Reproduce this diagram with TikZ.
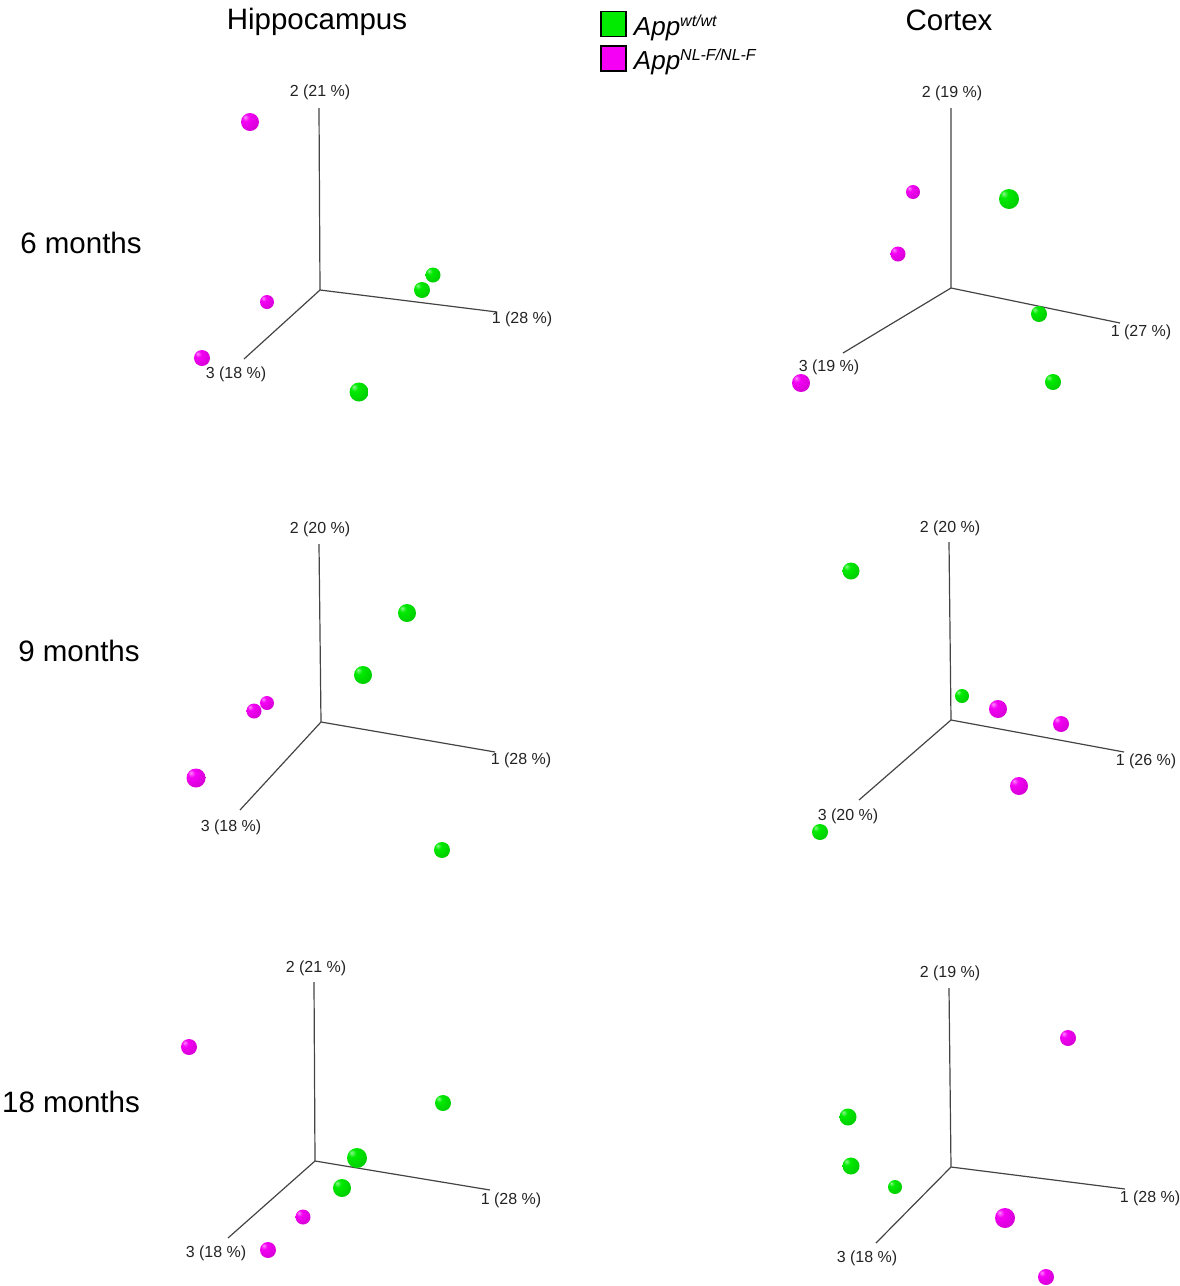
\documentclass[tikz,border=0pt]{standalone}
\usepackage{fontspec}
\setmainfont{Liberation Sans}
\usepackage{tikz}
\usetikzlibrary{positioning}
\definecolor{wtgreen}{RGB}{0,235,0}
\definecolor{nlmagenta}{RGB}{245,0,245}
\definecolor{axisgray}{RGB}{35,35,35}
\pgfdeclareradialshading{wtsphere}{\pgfpoint{-14bp}{14bp}}{color(0bp)=(white!55!wtgreen); color(10bp)=(wtgreen); color(38bp)=(wtgreen!85!black); color(55bp)=(wtgreen!50!black); color(75bp)=(wtgreen!35!black)}
\pgfdeclareradialshading{nlsphere}{\pgfpoint{-14bp}{14bp}}{color(0bp)=(white!55!nlmagenta); color(10bp)=(nlmagenta); color(38bp)=(nlmagenta!85!black); color(55bp)=(nlmagenta!50!black); color(75bp)=(nlmagenta!35!black)}
\begin{document}
\begin{tikzpicture}[x=1pt,y=-1pt,
    axis/.style={axisgray!85,line width=1.2pt},
    axlabel/.style={text=axisgray,font=\fontsize{16}{18}\selectfont,inner sep=0pt,yshift=-1.5pt},
    title/.style={font=\fontsize{29.5}{33}\selectfont,inner sep=0pt},
    ball/.style={circle,inner sep=0pt},
    wtball/.style={ball,shading=wtsphere},
    nlball/.style={ball,shading=nlsphere},
    legbox/.style={draw=black,line width=1.5pt,minimum size=25pt,inner sep=0pt},
    legtext/.style={anchor=base west,inner sep=0pt,font=\fontsize{26}{30}\selectfont\itshape}]
    \useasboundingbox (0,0) rectangle (1179,1286);
    % titles and legend
    \node[title] (hip) at (317,21.5) {Hippocampus};
    \node[title] (cor) at (949,20) {Cortex};
    \node[title] (m6) at (81,243) {6 months};
    \node[title] (m9) at (79,651) {9 months};
    \node[title] (m18) at (71,1102) {18 months};
    \node[legbox,fill=wtgreen] (wtbox) at (613.5,24) {};
    \node[legbox,fill=nlmagenta] (nlbox) at (613.5,58.5) {};
    \node[legtext] (wtleg) at ([xshift=7pt,yshift=-11pt]wtbox.east) {App\raisebox{9pt}{\fontsize{16}{16}\selectfont wt/wt}};
    \node[legtext] (nlleg) at ([xshift=7pt,yshift=-11pt]nlbox.east) {App\raisebox{9pt}{\fontsize{16}{16}\selectfont NL-F/NL-F}};

    % hippocampus, 6 months
    \coordinate (h6o) at (320,290);
    \coordinate (h6a) at (497,312);
    \coordinate (h6b) at (319,108);
    \coordinate (h6c) at (244,359);
    \draw[axis] (h6b) -- (h6o) -- (h6a);
    \draw[axis] (h6o) -- (h6c);
    \node[axlabel] (h6al) at (522,318) {1 (28 \%)};
    \node[axlabel] (h6bl) at (320,91) {2 (21 \%)};
    \node[axlabel] (h6cl) at (236,373) {3 (18 \%)};
    \node[nlball,minimum size=18pt] (h6p1) at (250,122) {};
    \node[nlball,minimum size=14pt] (h6p2) at (267,302) {};
    \node[nlball,minimum size=16pt] (h6p3) at (202,358) {};
    \node[wtball,minimum size=15pt] (h6g1) at (433,275) {};
    \node[wtball,minimum size=16pt] (h6g2) at (422,290) {};
    \node[wtball,minimum size=19pt] (h6g3) at (359,392) {};

    % cortex, 6 months
    \coordinate (c6o) at (951,288);
    \coordinate (c6a) at (1120,323);
    \coordinate (c6b) at (951,108);
    \coordinate (c6c) at (843,353);
    \draw[axis] (c6b) -- (c6o) -- (c6a);
    \draw[axis] (c6o) -- (c6c);
    \node[axlabel] (c6al) at (1141,331) {1 (27 \%)};
    \node[axlabel] (c6bl) at (952,92) {2 (19 \%)};
    \node[axlabel] (c6cl) at (829,366) {3 (19 \%)};
    \node[nlball,minimum size=14pt] (c6p1) at (913,192) {};
    \node[nlball,minimum size=15pt] (c6p2) at (898,254) {};
    \node[nlball,minimum size=18pt] (c6p3) at (801,383) {};
    \node[wtball,minimum size=20pt] (c6g1) at (1009,199) {};
    \node[wtball,minimum size=16pt] (c6g2) at (1039,314) {};
    \node[wtball,minimum size=16pt] (c6g3) at (1053,382) {};

    % hippocampus, 9 months
    \coordinate (h9o) at (321,722);
    \coordinate (h9a) at (495,752);
    \coordinate (h9b) at (319,544);
    \coordinate (h9c) at (240,810);
    \draw[axis] (h9b) -- (h9o) -- (h9a);
    \draw[axis] (h9o) -- (h9c);
    \node[axlabel] (h9al) at (521,759) {1 (28 \%)};
    \node[axlabel] (h9bl) at (320,528) {2 (20 \%)};
    \node[axlabel] (h9cl) at (231,826) {3 (18 \%)};
    \node[wtball,minimum size=18pt] (h9g1) at (407,613) {};
    \node[wtball,minimum size=18pt] (h9g2) at (363,675) {};
    \node[nlball,minimum size=14pt] (h9p1) at (267,703) {};
    \node[nlball,minimum size=15pt] (h9p2) at (254,711) {};
    \node[nlball,minimum size=19pt] (h9p3) at (196,778) {};
    \node[wtball,minimum size=16pt] (h9g3) at (442,850) {};

    % cortex, 9 months
    \coordinate (c9o) at (951,720);
    \coordinate (c9a) at (1124,752);
    \coordinate (c9b) at (949,542);
    \coordinate (c9c) at (859,800);
    \draw[axis] (c9b) -- (c9o) -- (c9a);
    \draw[axis] (c9o) -- (c9c);
    \node[axlabel] (c9al) at (1146,760) {1 (26 \%)};
    \node[axlabel] (c9bl) at (950,527) {2 (20 \%)};
    \node[axlabel] (c9cl) at (848,815) {3 (20 \%)};
    \node[wtball,minimum size=17pt] (c9g1) at (851,571) {};
    \node[wtball,minimum size=14pt] (c9g2) at (962,696) {};
    \node[nlball,minimum size=18pt] (c9p1) at (998,709) {};
    \node[nlball,minimum size=16pt] (c9p2) at (1061,724) {};
    \node[nlball,minimum size=18pt] (c9p3) at (1019,786) {};
    \node[wtball,minimum size=16pt] (c9g3) at (820,832) {};

    % hippocampus, 18 months
    \coordinate (h18o) at (315,1161);
    \coordinate (h18a) at (490,1190);
    \coordinate (h18b) at (314,982);
    \coordinate (h18c) at (228,1238);
    \draw[axis] (h18b) -- (h18o) -- (h18a);
    \draw[axis] (h18o) -- (h18c);
    \node[axlabel] (h18al) at (511,1199) {1 (28 \%)};
    \node[axlabel] (h18bl) at (316,967) {2 (21 \%)};
    \node[axlabel] (h18cl) at (216,1252) {3 (18 \%)};
    \node[nlball,minimum size=16pt] (h18p1) at (189,1047) {};
    \node[wtball,minimum size=16pt] (h18g1) at (443,1103) {};
    \node[wtball,minimum size=20pt] (h18g2) at (357,1158) {};
    \node[wtball,minimum size=18pt] (h18g3) at (342,1188) {};
    \node[nlball,minimum size=15pt] (h18p2) at (303,1217) {};
    \node[nlball,minimum size=16pt] (h18p3) at (268,1250) {};

    % cortex, 18 months
    \coordinate (c18o) at (951,1167);
    \coordinate (c18a) at (1125,1189);
    \coordinate (c18b) at (949,988);
    \coordinate (c18c) at (876,1243);
    \draw[axis] (c18b) -- (c18o) -- (c18a);
    \draw[axis] (c18o) -- (c18c);
    \node[axlabel] (c18al) at (1150,1197) {1 (28 \%)};
    \node[axlabel] (c18bl) at (950,972) {2 (19 \%)};
    \node[axlabel] (c18cl) at (867,1257) {3 (18 \%)};
    \node[nlball,minimum size=16pt] (c18p1) at (1068,1038) {};
    \node[wtball,minimum size=17pt] (c18g1) at (848,1117) {};
    \node[wtball,minimum size=17pt] (c18g2) at (851,1166) {};
    \node[wtball,minimum size=14pt] (c18g3) at (895,1187) {};
    \node[nlball,minimum size=20pt] (c18p2) at (1005,1218) {};
    \node[nlball,minimum size=16pt] (c18p3) at (1046,1277) {};
\end{tikzpicture}
\end{document}
